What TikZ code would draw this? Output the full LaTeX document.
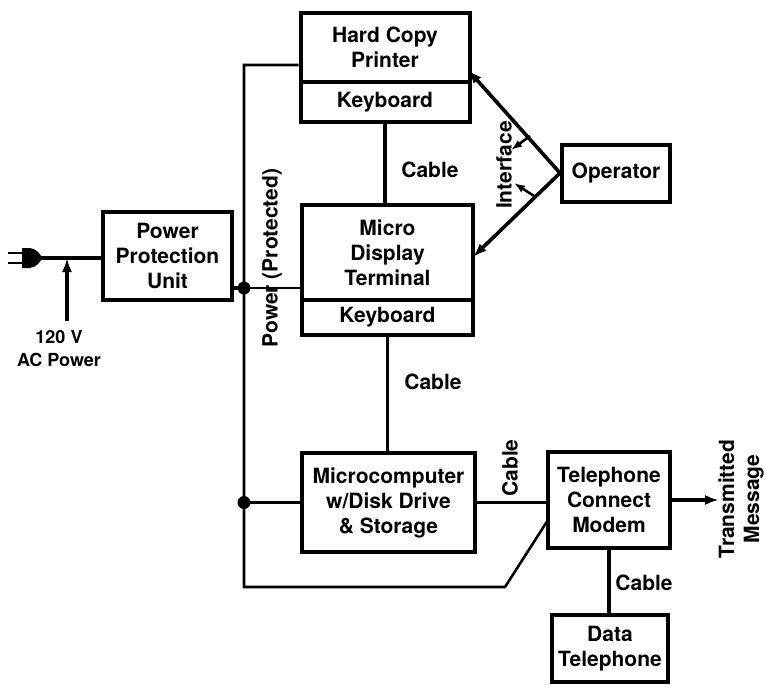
\documentclass[tikz,border=0pt]{standalone}
\usepackage{fontspec}
\setmainfont{TeX Gyre Heros}
\usetikzlibrary{arrows.meta,calc}
\begin{document}
\begin{tikzpicture}[x=1pt,y=-1pt,
  font=\fontsize{21}{25}\selectfont\bfseries,
  box/.style={draw,line width=4pt,align=center,inner sep=0pt},
  wire/.style={line width=3.6pt},
  bus/.style={line width=2.6pt},
  arr/.style={-{Latex[length=14pt,width=10pt]}},
  dot/.style={circle,fill,inner sep=0pt,minimum size=13pt}]
\useasboundingbox (0,0) rectangle (764,689);

% blocks
\node[box,minimum width=129,minimum height=88] (ppu) at (167.5,256) {Power\\Protection\\Unit};
\node[box,minimum width=169,minimum height=69] (printer) at (385,47.5) {Hard Copy\\Printer};
\node[box,minimum width=169,minimum height=40] (pkbd) at (385,102) {Keyboard};
\node[box,minimum width=171,minimum height=95] (term) at (387.5,252.5) {Micro\\Display\\Terminal};
\node[box,minimum width=171,minimum height=35] (tkbd) at (387.5,317.5) {Keyboard};
\node[box,minimum width=173,minimum height=99] (micro) at (388.5,502.5) {Microcomputer\\w/Disk Drive\\\& Storage};
\node[box,minimum width=122,minimum height=96] (modem) at (609,500) {Telephone\\Connect\\Modem};
\node[box,minimum width=116,minimum height=67] (dtel) at (610,648.5) {Data\\Telephone};
\node[box,minimum width=108,minimum height=57] (oper) at (616,173.5) {Operator};

% mains plug and incoming supply
\coordinate (plugtip) at (40,258);
\draw[line width=2.4pt] (8,253) -- (24,253) (8,263) -- (24,263);
\fill (22,248) -- (30,248) .. controls (36,249) and (40,253) .. (42,258)
      .. controls (40,263) and (36,267) .. (30,268) -- (22,268) -- cycle;
\draw[wire] (plugtip) -- (plugtip -| ppu.west);
\coordinate (acin) at (67,258);
\coordinate (acsrc) at (67,321);
\draw[wire,arr] (acsrc) -- (acin);
\node[align=center,font=\fontsize{18}{23}\selectfont\bfseries] (aclabel) at (59,349) {120 V\\AC Power};

% protected power bus
\coordinate (j1) at (244,288);
\coordinate (j2) at (244,502.5);
\coordinate (bustop) at (244,65);
\coordinate (busbot) at (244,587);
\coordinate (kink) at (505,587);
\coordinate (modemin) at (548,520);
\draw[wire] (j1 -| ppu.east) -- (j1);
\draw[bus] (printer.west |- bustop) -- (bustop) -- (busbot) -- (kink) -- (modemin);
\draw[bus] (j1) -- (j1 -| term.west);
\draw[wire] (j2) -- (j2 -| micro.west);
\node[dot] (dot1) at (j1) {};
\node[dot] (dot2) at (j2) {};
\node[rotate=90] (pwrlabel) at (272,258) {Power (Protected)};

% cables between units
\draw[wire] (pkbd.south) -- (pkbd.south |- term.north);
\node (cab1) at (430,170) {Cable};
\draw[wire] (tkbd.south) -- (tkbd.south |- micro.north);
\node (cab2) at (433,382) {Cable};
\draw[wire] (micro.east) -- (micro.east -| modem.west);
\node[rotate=90] (cab3) at (510,468) {Cable};
\draw[wire] (modem.south) -- (modem.south |- dtel.north);
\node (cab4) at (644,583) {Cable};

% transmitted output
\coordinate (txend) at (719,500);
\draw[wire,arr] (modem.east) -- (txend);
\node[rotate=90,align=center] (txlabel) at (741,499) {Transmitted\\Message};

% operator interface
\coordinate (apex) at (560,173);
\coordinate (ptrpt) at (468,70);
\coordinate (termpt) at (473,257);
\draw[wire,arr] (apex) -- (ptrpt);
\draw[wire,arr] (apex) -- (termpt);
\draw[wire] (apex) -- (oper.west);
\coordinate (ia1) at (530,136);
\coordinate (ib1) at (511,150);
\coordinate (ia2) at (534,196);
\coordinate (ib2) at (514,183);
\draw[line width=2.6pt,-{Latex[length=11pt,width=8pt]}] (ia1) -- (ib1);
\draw[line width=2.6pt,-{Latex[length=11pt,width=8pt]}] (ia2) -- (ib2);
\node[rotate=90] (iflabel) at (504,165) {Interface};
\end{tikzpicture}
\end{document}
